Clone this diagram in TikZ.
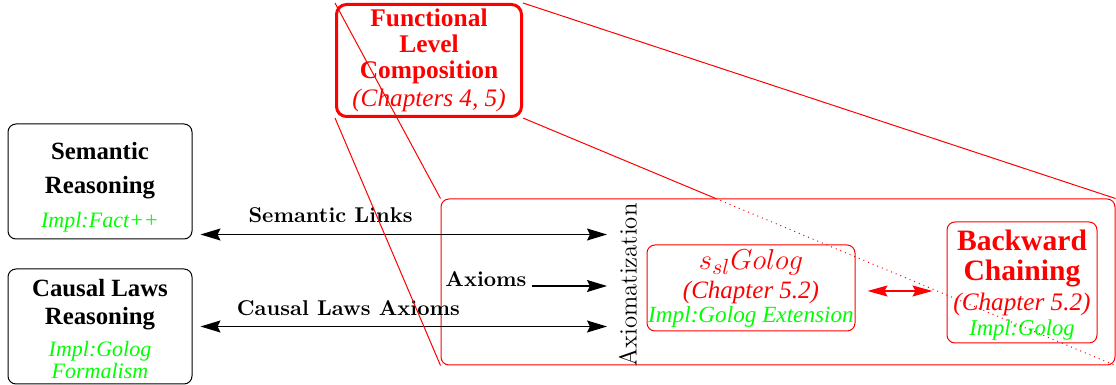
\documentclass[tikz,border=0pt]{standalone}
\usepackage{fontspec}
\newfontfamily\tms{Liberation Serif}
\usetikzlibrary{arrows.meta,positioning}

% green implementation line inside a box
\newcommand{\impl}[2]{{\color{green}\fontsize{#1}{#1}\selectfont\mdseries\itshape #2}}

\begin{document}
\begin{tikzpicture}[
    x = 0.5pt, y = -0.5pt, %
    > = {Stealth[length=10pt,width=6pt,inset=1.5pt]}, %
    line width = 0.6pt %
    ]

    \tikzset{box/.style={
    draw = black,
    line width = 0.5pt,
    rounded corners = 4pt,
    align = center,
    inner sep = 0pt
    }}
    \tikzset{redbox/.style={box, draw = red, text = red}}
    \tikzset{lbl/.style={inner sep = 0pt, font = \bfseries\fontsize{10.7}{12}\selectfont}}
    \tikzset{zoomline/.style={red, line width = 0.5pt}}
    \tikzset{redarrow/.style={red, {Stealth[length=10pt,width=5.5pt,inset=1.5pt]}-{Stealth[length=10pt,width=5.5pt,inset=1.5pt]}}}

    \useasboundingbox (0,0) rectangle (1116,385);

    \node[box, minimum width=92pt, minimum height=57.5pt, text height=46.2pt, text depth=0pt,
      font=\tms\fontsize{12.4}{17}\selectfont\bfseries] (sem) at (100,181.5)
      {Semantic\\Reasoning\\\impl{11}{Impl:Fact++}};
    \node[box, minimum width=92pt, minimum height=57.5pt, text height=52.4pt, text depth=0pt,
      font=\tms\fontsize{12.4}{14}\selectfont\bfseries] (causal) [below=14.5pt of sem]
      {Causal Laws\\Reasoning\\[2pt]\impl{11}{Impl:Golog}\\[-3pt]\impl{11}{Formalism}};

    \node[redbox, line width=1.5pt, rounded corners=5pt, minimum width=92.5pt, minimum height=56pt,
      font=\tms\fontsize{12.7}{13}\selectfont\bfseries] (flc) at (429,60.5)
      {Functional\\Level\\Composition\\[1pt]{\mdseries\itshape\fontsize{12.6}{13}\selectfont (Chapters 4, 5)}};

    \node[redbox, minimum width=337pt, minimum height=83pt] (zoom) at (778,282) {};

    \node[font=\fontsize{12.4}{12.4}\selectfont, rotate=90] (ax) at (628,285) {Axiomatization};
    \coordinate (axin) at (607,0);

    \node[redbox, minimum width=104pt, minimum height=43pt,
      font=\tms\fontsize{12.5}{14.5}\selectfont\itshape] (golog) at (751,288)
      {{\fontsize{15.5}{15.5}\selectfont$s_{sl}Golog$}\\(Chapter 5.2)\\[-2.5pt]\impl{11.6}{Impl:Golog Extension}};
    \node[redbox, minimum width=75pt, minimum height=60.5pt, text depth=-2pt,
      font=\tms\fontsize{14.8}{15}\selectfont\bfseries] (bc) at (1022,282.5)
      {Backward\\Chaining\\{\mdseries\itshape\fontsize{12.6}{13}\selectfont (Chapter 5.2)}\\[-2.5pt]\impl{11.3}{Impl:Golog}};

    \draw[<->, shorten <=4pt] ([yshift=2.5pt]sem.south east)
      -- node[lbl, pos=0.333, anchor=base, yshift=6pt] {Semantic Links}
      ([yshift=2.5pt]sem.south east -| axin);
    \draw[<->, shorten <=4pt] (causal.east)
      -- node[lbl, pos=0.376, anchor=base, yshift=5.5pt] {Causal Laws Axioms}
      (causal.east -| axin);
    \node[lbl, anchor=base east] (axm) at (527,287) {Axioms};
    \draw[->] ([xshift=2.5pt,yshift=0.5pt]axm.base east) -- ([yshift=0.5pt]axm.base east -| axin);

    \draw[redarrow, shorten <=6pt, shorten >=7pt] ([yshift=-1.5pt]golog.east)
      -- ([yshift=-1.5pt]golog.east -| bc.west);

    % zoom lines
    \draw[zoomline] (flc.north west) -- (zoom.north west);
    \draw[zoomline] (flc.south west) -- (zoom.south west);
    \draw[zoomline] (flc.north east) -- (zoom.north east);
    \draw[zoomline] (flc.south east)
      -- (intersection of flc.south east--zoom.south east and zoom.north west--zoom.north east) coordinate (cut);
    \draw[zoomline, dotted] (cut) -- (zoom.south east);

\end{tikzpicture}
\end{document}
